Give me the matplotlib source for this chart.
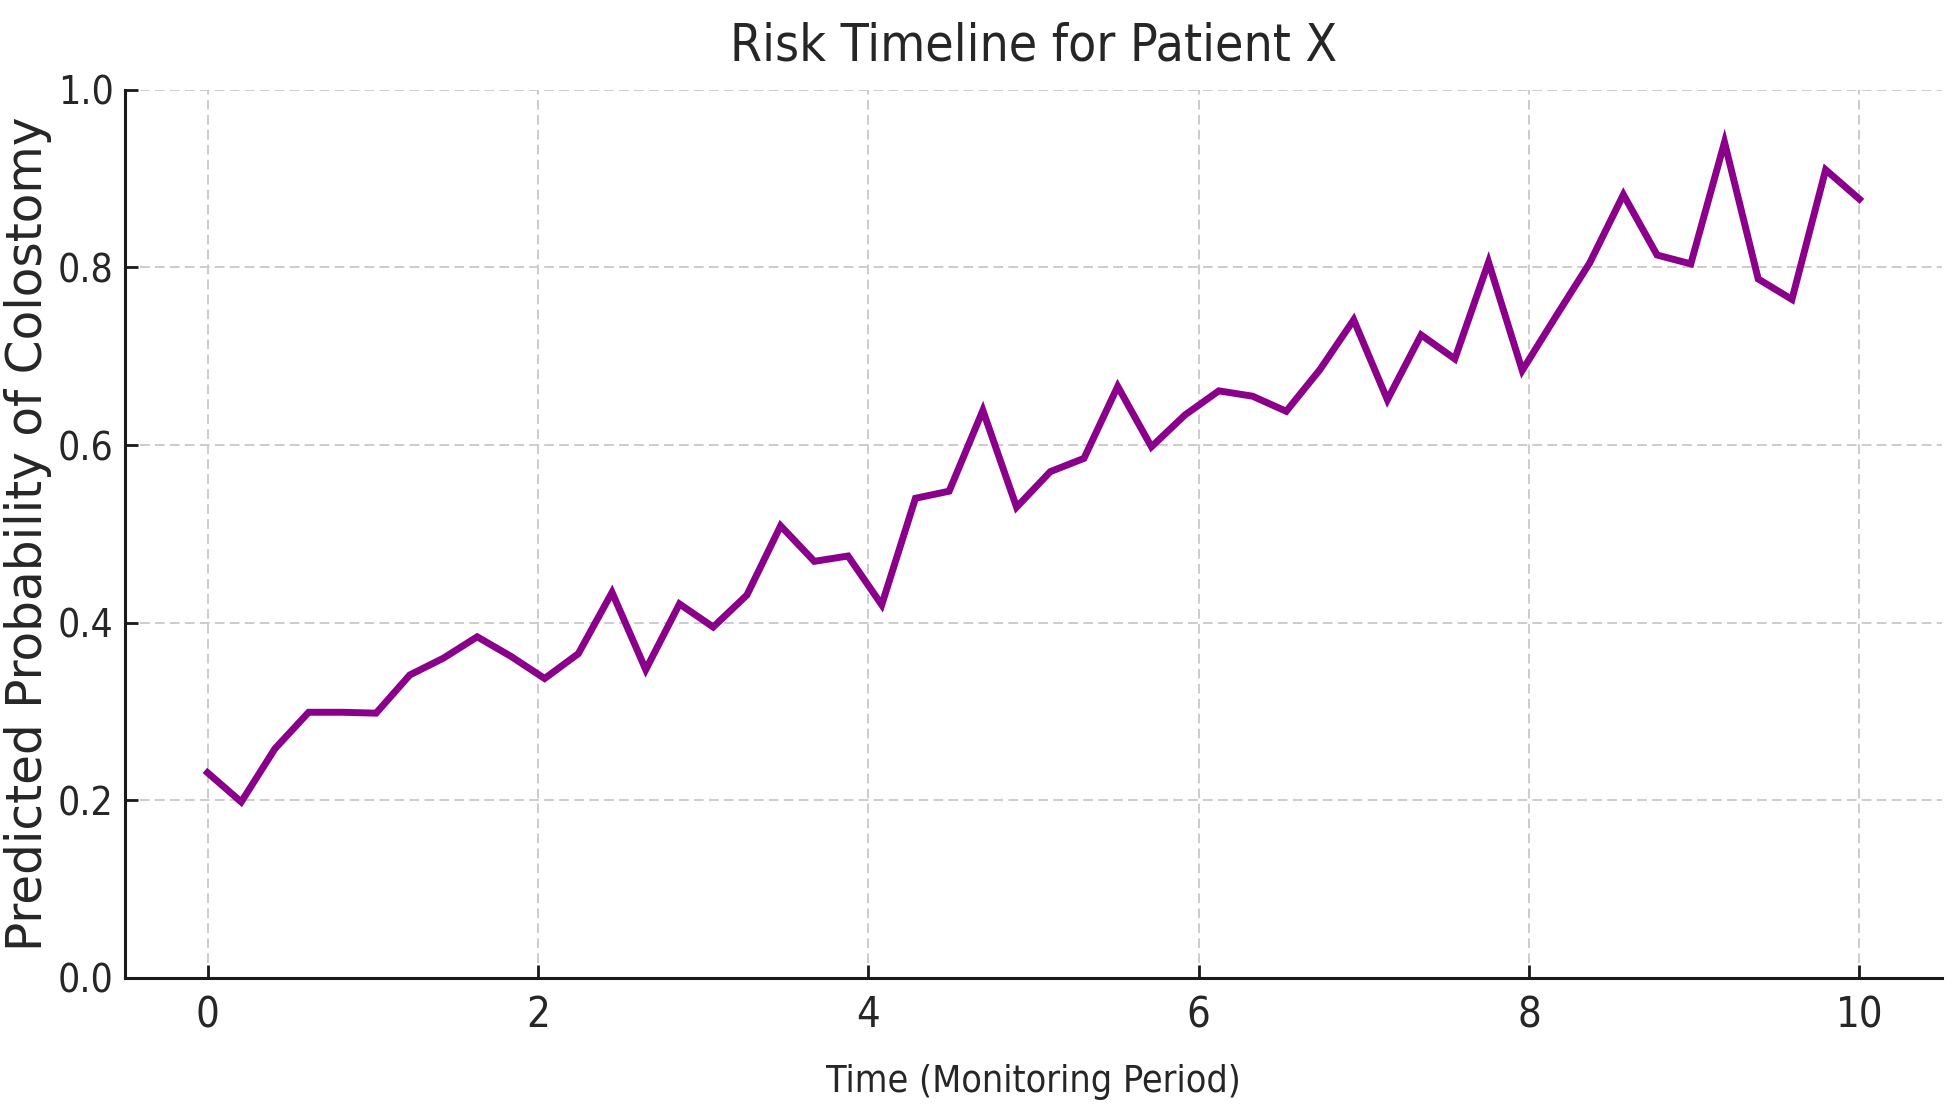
import numpy as np
import matplotlib
matplotlib.use('Agg')
import matplotlib.pyplot as plt

# risk values, 50 checkpoints over 0..10
time=np.linspace(0,10,50)
risk=[0.231,0.198,0.258,0.299,0.299,0.298,0.341,0.360,0.384,0.362,
      0.337,0.365,0.434,0.347,0.421,0.395,0.431,0.509,0.469,0.475,
      0.420,0.540,0.548,0.639,0.530,0.570,0.585,0.666,0.598,0.634,
      0.661,0.655,0.638,0.685,0.741,0.651,0.724,0.697,0.806,0.684,
      0.745,0.805,0.882,0.814,0.804,0.941,0.787,0.764,0.910,0.877]
xticks=[0,2,4,6,8,10]
yticks=[0.0,0.2,0.4,0.6,0.8,1.0]

plt.rcParams['font.family']=['DejaVu Sans']
txt='#262626'

fig=plt.figure(figsize=(19.58,11.15),dpi=100)
ax=fig.add_axes([0.0638,0.1231,0.928,0.7963])

ax.plot(time,risk,color='#8b008b',linewidth=5,solid_joinstyle='miter',zorder=3)

ax.set_xlim(-0.5,10.5)
ax.set_ylim(0,1.0)
ax.set_xticks(xticks)
ax.set_yticks(yticks)
ax.set_yticklabels(['%.1f'%v for v in yticks])

ax.grid(True,color='#cccccc',linestyle=(0,(5,2.7)),linewidth=1.4,zorder=0)
for s in ['top','right']:
    ax.spines[s].set_visible(False)
for s in ['left','bottom']:
    ax.spines[s].set_linewidth(2.2)
    ax.spines[s].set_color('#1a1a1a')

ax.tick_params(axis='both',direction='in',length=9.5,width=2,colors='#1a1a1a',labelcolor=txt)
ax.tick_params(axis='x',pad=12)
ax.tick_params(axis='y',pad=8)
for lab in ax.get_xticklabels():
    lab.set_fontsize(30)
    lab.set_fontstretch('condensed')
for lab in ax.get_yticklabels():
    lab.set_fontsize(28)
    lab.set_fontstretch('condensed')

ax.set_title('Risk Timeline for Patient X',fontsize=37,fontstretch='condensed',color=txt,pad=21)
ax.set_xlabel('Time (Monitoring Period)',fontsize=27,fontstretch='condensed',color=txt,labelpad=20)
ax.set_ylabel('Predicted Probability of Colostomy',fontsize=35,color=txt,labelpad=4)

fig.savefig('out.png',dpi=100)
